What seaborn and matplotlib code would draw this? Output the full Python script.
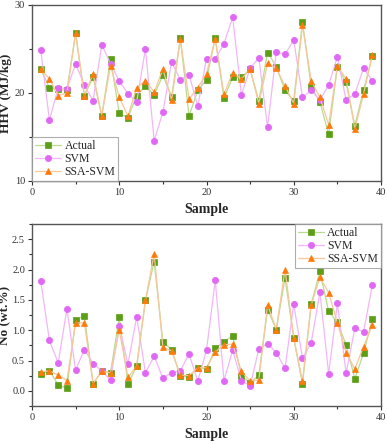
import numpy as np
import pandas as pd
import matplotlib
matplotlib.use("Agg")
import matplotlib.pyplot as plt
import seaborn as sns
from matplotlib.ticker import MultipleLocator, FormatStrFormatter

# Sample numbers
sample = list(range(1, 40))

# HHV (MJ/kg)
hhv_actual = [22.7, 20.6, 20.4, 20.3, 26.8, 19.7, 21.8, 17.4, 23.9, 17.7,
              17.2, 19.7, 20.8, 19.8, 22.0, 19.6, 26.2, 17.4, 20.3, 21.5,
              26.3, 19.4, 21.8, 21.8, 22.7, 19.1, 24.6, 23.0, 20.3, 19.1,
              28.1, 20.7, 19.0, 15.3, 23.0, 21.2, 16.3, 20.3, 24.2]
hhv_svm = [24.9, 16.9, 20.6, 20.5, 23.3, 20.9, 19.1, 25.5, 23.3, 21.4,
           19.9, 19.0, 25.0, 14.6, 17.8, 23.5, 21.5, 22.1, 18.5, 23.9,
           23.9, 25.6, 28.6, 19.8, 22.8, 24.0, 16.1, 24.7, 24.4, 26.0,
           19.5, 20.3, 19.2, 20.9, 24.1, 19.2, 19.9, 22.8, 21.4]
hhv_ssa = [22.7, 21.6, 19.7, 20.0, 26.8, 19.7, 22.2, 17.4, 23.1, 19.5,
           17.4, 20.6, 21.4, 20.1, 22.7, 19.2, 26.1, 19.3, 20.6, 22.2,
           26.1, 19.85, 22.3, 21.6, 22.7, 18.8, 23.4, 22.8, 20.8, 18.8,
           27.7, 21.4, 19.5, 16.4, 23.1, 21.6, 15.9, 19.9, 24.3]

# N content (wt.%)
no_actual = [0.28, 0.33, 0.10, 0.04, 1.17, 1.24, 0.12, 0.32, 0.30, 1.21,
             0.11, 0.41, 1.49, 2.13, 0.81, 0.68, 0.24, 0.23, 0.38, 0.36,
             0.70, 0.81, 0.91, 0.25, 0.13, 0.26, 1.34, 1.01, 1.86, 0.87,
             0.11, 1.43, 1.97, 1.31, 1.13, 0.76, 0.20, 0.62, 1.18]
no_svm = [1.81, 0.83, 0.46, 1.35, 0.34, 0.68, 0.45, 0.33, 0.18, 1.07,
          0.44, 1.22, 0.30, 0.57, 0.21, 0.30, 0.33, 0.61, 0.16, 0.67,
          1.82, 0.17, 0.67, 0.17, 0.08, 0.69, 0.78, 0.63, 0.37, 1.43,
          0.54, 0.79, 1.63, 0.28, 1.44, 0.29, 1.03, 0.97, 1.74]
no_ssa = [0.31, 0.33, 0.26, 0.17, 1.12, 1.12, 0.12, 0.32, 0.30, 1.00,
          0.22, 0.41, 1.49, 2.26, 0.72, 0.66, 0.26, 0.25, 0.38, 0.38,
          0.64, 0.76, 0.77, 0.32, 0.16, 0.18, 1.42, 1.01, 2.00, 0.87,
          0.16, 1.42, 1.87, 1.62, 1.12, 0.63, 0.36, 0.73, 1.08]

series = ["Actual", "SVM", "SSA-SVM"]
markers = {"Actual": "s", "SVM": "o", "SSA-SVM": "^"}
mark_col = {"Actual": "#5c9e16", "SVM": "#e068f5", "SSA-SVM": "#ff7a0a"}
line_col = {"Actual": "#b9dc8f", "SVM": "#f3b6fa", "SSA-SVM": "#f8c79a"}

sns.set_style("ticks")
plt.rcParams["font.family"] = ["Liberation Serif", "DejaVu Serif"]

fig = plt.figure(figsize=(3.88, 4.44), dpi=100)
ax1 = fig.add_axes([32/388, 1 - 181/444, 349/388, 176/444])
ax2 = fig.add_axes([32/388, 1 - 406/444, 349/388, 182/444])


def draw(ax, vals, ylabel, ylim, major, minor, loc):
    df = pd.DataFrame({"Sample": sample * 3,
                       "value": vals[0] + vals[1] + vals[2],
                       "model": np.repeat(series, len(sample))})
    for name in series:
        d = df[df["model"] == name]
        sns.lineplot(data=d, x="Sample", y="value", ax=ax, label=name,
                     color=line_col[name], lw=0.9, marker=markers[name],
                     markersize=4.5, markerfacecolor=mark_col[name],
                     markeredgecolor=mark_col[name], markeredgewidth=0.5)
    ax.set_xlim(0, 40)
    ax.set_ylim(*ylim)
    ax.xaxis.set_major_locator(MultipleLocator(10))
    ax.xaxis.set_minor_locator(MultipleLocator(5))
    ax.yaxis.set_major_locator(MultipleLocator(major))
    ax.yaxis.set_minor_locator(MultipleLocator(minor))
    ax.tick_params(which="both", direction="out", labelsize=7.5, colors="#333333",
                   length=3, width=0.8, pad=2)
    ax.tick_params(which="minor", length=2)
    for s in ax.spines.values():
        s.set_color("#555555")
        s.set_linewidth(1.0)
    ax.set_xlabel("Sample", fontsize=10, fontweight="bold", labelpad=4)
    ax.set_ylabel(ylabel, fontsize=9.5, fontweight="bold")
    ax.yaxis.set_label_coords(-0.058, 0.5)
    leg = ax.legend(loc=loc, fontsize=8.5, frameon=True, fancybox=False,
                    borderaxespad=0, handlelength=2.2, handletextpad=0.3,
                    borderpad=0.25, labelspacing=0.1)
    leg.get_frame().set_edgecolor("#999999")
    leg.get_frame().set_linewidth(0.8)


draw(ax1, [hhv_actual, hhv_svm, hhv_ssa], "HHV (MJ/kg)", (10, 30), 10, 5, "lower left")
draw(ax2, [no_actual, no_svm, no_ssa], "No (wt.%)", (-0.25, 2.75), 0.5, 0.25, "upper right")
ax2.yaxis.set_major_formatter(FormatStrFormatter("%.1f"))

fig.savefig("out.png", dpi=100)
